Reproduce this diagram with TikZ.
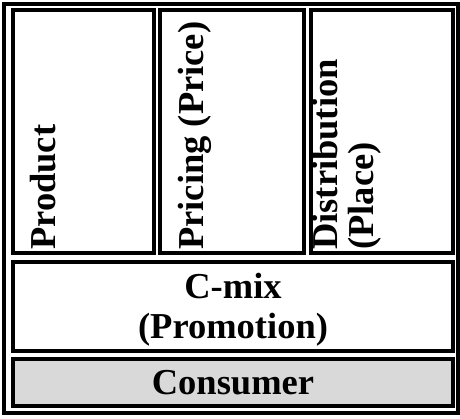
\documentclass[tikz,border=0pt]{standalone}
\usepackage{fontspec}
\setmainfont{Liberation Serif}
\definecolor{cellgray}{RGB}{217,217,217}
\begin{document}
\begin{tikzpicture}[x=1pt,y=1pt,
  frame/.style={draw=black,line width=4pt},
  cell/.style={draw=black,line width=4pt,rectangle,inner sep=0pt},
  label/.style={font=\fontsize{36.5}{40}\selectfont\bfseries,inner sep=0pt},
  vlabel/.style={label,rotate=90,anchor=base west,align=left}]
  \useasboundingbox (0,0) rectangle (460,418);
  % outer border of the table
  \draw[frame] (4,5) rectangle (458,414);
  % three upper cells
  \node[cell,minimum width=141pt,minimum height=242.5pt,anchor=south west] (product) at (11,163.5) {};
  \node[cell,minimum width=144pt,minimum height=242.5pt,anchor=south west] (pricing) at (158,163.5) {};
  \node[cell,minimum width=142pt,minimum height=242.5pt,anchor=south west] (distribution) at (309,163.5) {};
  % promotion row
  \node[cell,minimum width=440pt,minimum height=89pt,anchor=south west] (cmix) at (11,65) {};
  % consumer row
  \node[cell,fill=cellgray,minimum width=440pt,minimum height=46.7pt,anchor=south west] (consumer) at (11,10.3) {};
  % cell texts
  \node[vlabel] (tproduct) at (55,168) {Product};
  \node[vlabel] (tpricing) at (203,168) {Pricing (Price)};
  \node[vlabel,anchor=north west,font=\fontsize{36.5}{36}\selectfont\bfseries] (tdistribution) at (312,168) {Distribution\\(Place)};
  \node[label,align=center,yshift=-3pt] (tcmix) at (cmix.center) {C-mix\\(Promotion)};
  \node[label] (tconsumer) at (consumer.center) {Consumer};
\end{tikzpicture}
\end{document}
